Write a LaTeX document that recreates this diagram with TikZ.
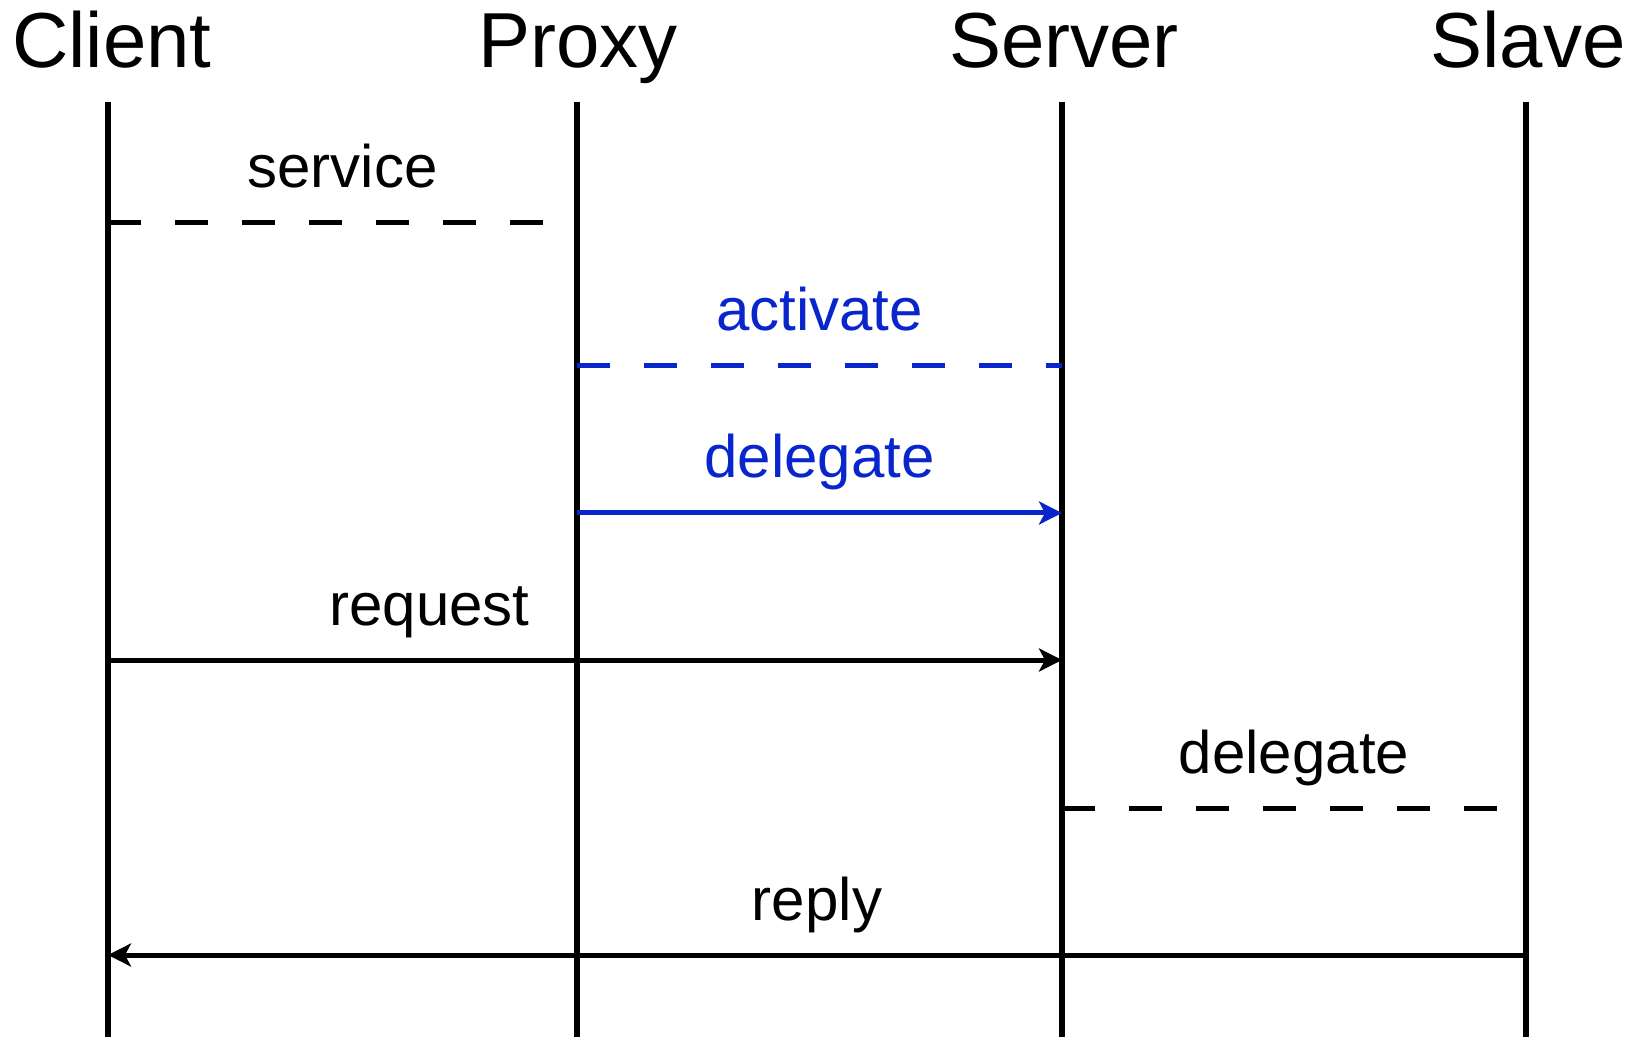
\documentclass[tikz,border=0pt]{standalone}
\usepackage{fontspec}
\setmainfont{Liberation Sans}
\usetikzlibrary{arrows.meta}
\definecolor{msgblue}{RGB}{8,38,204}

\begin{document}
\begin{tikzpicture}[x=0.5pt, y=-0.5pt,
  actor/.style={font=\fontsize{39}{46}\selectfont, anchor=base},
  lifeline/.style={line width=2.8pt},
  call/.style={line width=2.5pt, -{Stealth[length=11.5pt, width=11.5pt, inset=3pt]}},
  async/.style={line width=2.5pt, dash pattern=on 16.5pt off 17pt},
  msglabel/.style={font=\fontsize{30}{36}\selectfont, anchor=base, yshift=17.5pt}]
\useasboundingbox (0,0) rectangle (1644,1037);

\node[actor] (client) at (112,68) {Client};
\node[actor] (proxy) at (578,68) {Proxy};
\node[actor] (server) at (1064,68) {Server};
\node[actor] (slave) at (1528,68) {Slave};

\foreach \n/\x in {client/108, proxy/577, server/1062, slave/1526} {
  \coordinate (\n-top) at (\x,102);
  \coordinate (\n-bot) at (\x,1037);
  \draw[lifeline] (\n-top) -- (\n-bot);
}

\foreach \r/\y in {1/223, 2/366, 3/513, 4/660, 5/808, 6/955}
  \coordinate (row\r) at (0,\y);

\draw[async] (client-top |- row1) -- node[msglabel] {service} (proxy-top |- row1);
\draw[async, msgblue] (proxy-top |- row2) -- node[msglabel] {activate} (server-top |- row2);
\draw[call, msgblue] (proxy-top |- row3) -- node[msglabel] {delegate} (server-top |- row3);
\draw[call] (client-top |- row4) -- node[msglabel, pos=0.337] {request} (server-top |- row4);
\draw[async] (server-top |- row5) -- node[msglabel] {delegate} (slave-top |- row5);
\draw[call] (slave-top |- row6) -- node[msglabel] {reply} (client-top |- row6);
\end{tikzpicture}
\end{document}
